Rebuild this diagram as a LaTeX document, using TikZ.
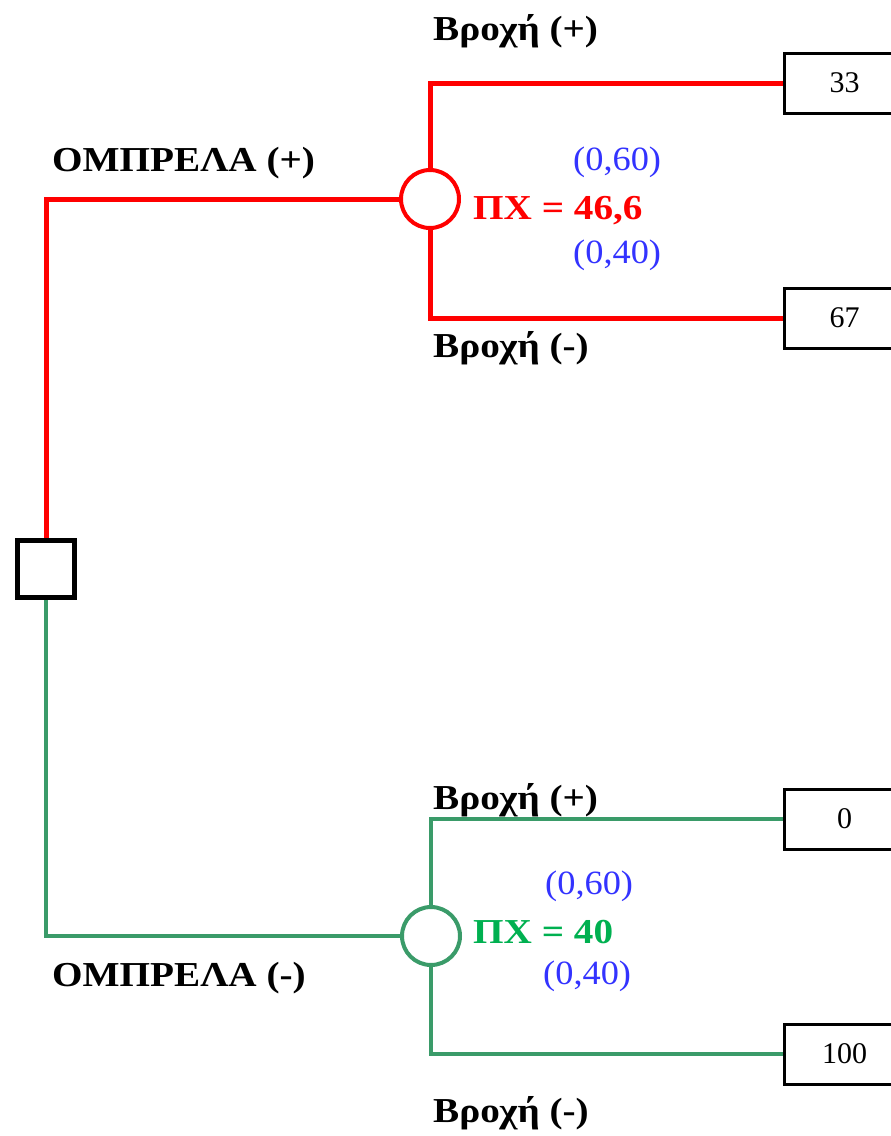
\documentclass[tikz,border=0pt]{standalone}
\usepackage{fontspec}
\setmainfont{Liberation Serif}
\newfontfamily\widelbl[FakeStretch=1.12]{Liberation Serif}
\newfontfamily\wideprob[FakeStretch=1.07]{Liberation Serif}
\definecolor{tred}{RGB}{255,0,0}
\definecolor{tgreen}{RGB}{58,155,105}
\definecolor{tgtext}{RGB}{0,176,80}
\definecolor{tblue}{RGB}{51,51,255}
\begin{document}
\begin{tikzpicture}[x=1pt,y=-1pt,
  lbl/.style={font=\widelbl\fontsize{35}{38}\selectfont\bfseries, anchor=west, inner sep=0pt},
  prob/.style={font=\wideprob\fontsize{34}{36}\selectfont, text=tblue, anchor=west, inner sep=0pt},
  ev/.style={font=\widelbl\fontsize{35}{38}\selectfont\bfseries, anchor=west, inner sep=0pt},
  payoff/.style={draw=black, line width=3pt, minimum width=120pt, minimum height=60pt, anchor=west, inner sep=0pt, font=\fontsize{30}{32}\selectfont, fill=white},
  chance/.style={circle, draw, line width=4pt, minimum size=58pt, inner sep=0pt, fill=white},
  decision/.style={rectangle, draw=black, line width=5pt, minimum size=57pt, inner sep=0pt, fill=white},
  redline/.style={draw=tred, line width=5pt},
  greenline/.style={draw=tgreen, line width=4.5pt}]
\clip (0,0) rectangle (891,1136);
\useasboundingbox (0,0) rectangle (891,1136);
% nodes
\node[decision] (dec) at (46,568.5) {};
\node[chance, draw=tred] (c1) at (430,199) {};
\node[chance, draw=tgreen] (c2) at (431,936) {};
\node[payoff] (b1) at (783,83) {33};
\node[payoff] (b2) at (783,318) {67};
\node[payoff] (b3) at (783,819) {0};
\node[payoff] (b4) at (783,1054) {100};
% connectors
\draw[redline] (dec.north) |- (c1.west);
\draw[redline] (c1.north) |- (b1.west);
\draw[redline] (c1.south) |- (b2.west);
\draw[greenline] (dec.south) |- (c2.west);
\draw[greenline] (c2.north) |- (b3.west);
\draw[greenline] (c2.south) |- (b4.west);
% redraw boxes on top of line ends
\node[payoff] at (783,83) {33};
\node[payoff] at (783,318) {67};
\node[payoff] at (783,819) {0};
\node[payoff] at (783,1054) {100};
\node[decision] at (46,568.5) {};
% labels
\node[lbl] (u1) at (52,163) {ΟΜΠΡΕΛΑ (+)};
\node[lbl] (u2) at (52,978) {ΟΜΠΡΕΛΑ (-)};
\node[lbl] (r1) at (433,31) {Βροχή (+)};
\node[lbl] (r2) at (433,348) {Βροχή (-)};
\node[lbl] (r3) at (433,800) {Βροχή (+)};
\node[lbl] (r4) at (433,1113) {Βροχή (-)};
\node[prob] (p1) at (573,162) {(0,60)};
\node[prob] (p2) at (573,255) {(0,40)};
\node[prob] (p3) at (545,886) {(0,60)};
\node[prob] (p4) at (543,976) {(0,40)};
\node[ev, text=tred] (e1) at (473,211) {ΠΧ = 46,6};
\node[ev, text=tgtext] (e2) at (473,932) {ΠΧ = 40};
\end{tikzpicture}
\end{document}
